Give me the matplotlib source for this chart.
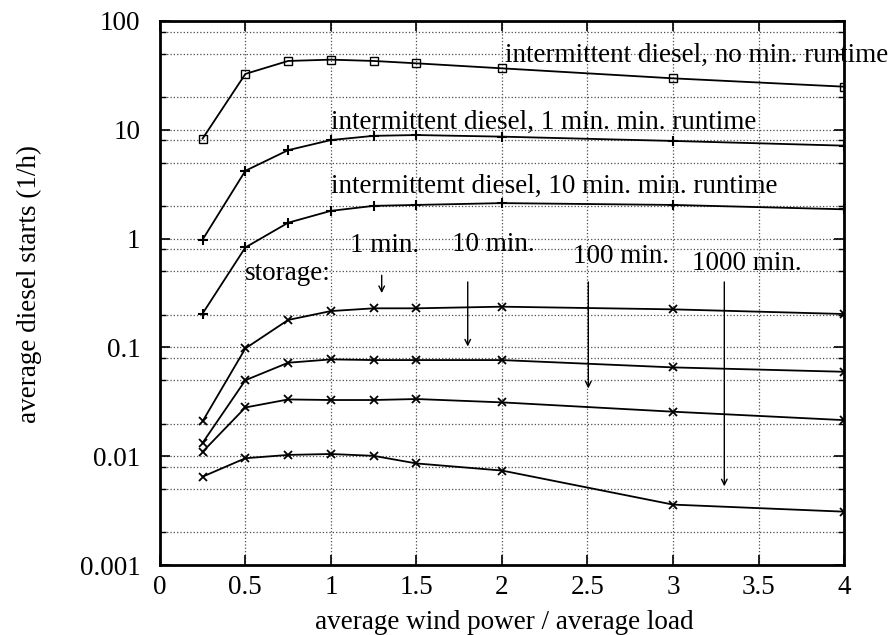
import matplotlib.pyplot as plt
import matplotlib.ticker as mticker
import numpy as np

plt.rcParams['font.family'] = ['Liberation Serif', 'DejaVu Serif']

# wind/load ratio at which simulations were run
ratio = [0.25, 0.5, 0.75, 1.0, 1.25, 1.5, 2.0, 3.0, 4.0]

# diesel starts per hour, intermittent diesel
no_min_runtime = [8.3, 32.6, 42.9, 44.1, 42.9, 40.8, 36.7, 29.7, 24.9]
min_runtime_1 = [0.98, 4.2, 6.5, 8.05, 8.8, 8.95, 8.65, 7.9, 7.15]
min_runtime_10 = [0.205, 0.83, 1.40, 1.80, 2.0, 2.04, 2.12, 2.04, 1.86]

# diesel starts per hour with storage
storage_1 = [0.021, 0.098, 0.179, 0.216, 0.229, 0.229, 0.237, 0.224, 0.203]
storage_10 = [0.0133, 0.050, 0.0724, 0.0777, 0.0766, 0.0766, 0.0766, 0.0656, 0.0598]
storage_100 = [0.011, 0.0281, 0.0333, 0.0329, 0.0329, 0.0336, 0.0313, 0.0257, 0.0215]
storage_1000 = [0.0065, 0.0096, 0.0103, 0.0105, 0.0101, 0.0086, 0.0074, 0.0036, 0.0031]

fig = plt.figure(figsize=(8.88, 6.35), dpi=100)
ax = fig.add_axes([0.180, 0.110, 0.7705, 0.857])

ax.semilogy(ratio, no_min_runtime, 'k-', marker='s', ms=6, mfc='none', mew=1.0, lw=1.3)
ax.semilogy(ratio, min_runtime_1, 'k-', marker='+', ms=7, mew=1.5, lw=1.3)
ax.semilogy(ratio, min_runtime_10, 'k-', marker='+', ms=7, mew=1.5, lw=1.3)
for s in [storage_1, storage_10, storage_100, storage_1000]:
    ax.semilogy(ratio, s, 'k-', marker='x', ms=6, mew=1.3, lw=1.3)

ax.set_xlim(0, 4)
ax.set_ylim(0.001, 100)
ax.set_xticks(np.arange(0, 4.01, 0.5))
ax.xaxis.set_major_formatter(mticker.FormatStrFormatter('%g'))
ax.yaxis.set_major_locator(mticker.LogLocator(base=10, numticks=10))
ax.yaxis.set_minor_locator(mticker.LogLocator(base=10, subs=[2, 5, 8], numticks=10))
ax.yaxis.set_major_formatter(mticker.FuncFormatter(lambda v, p: '%g' % v))
ax.yaxis.set_minor_formatter(mticker.NullFormatter())

ax.grid(True, which='major', ls=':', color='0.3', lw=0.9)
ax.grid(True, which='minor', axis='y', ls=':', color='0.3', lw=0.9)
ax.tick_params(which='both', direction='in', top=True, right=True, labelsize=19.5)
ax.tick_params(axis='x', pad=7)
ax.tick_params(axis='y', pad=14)
ax.tick_params(which='major', length=7, width=1.2)
ax.tick_params(which='minor', length=4, width=1.0)
for sp in ax.spines.values():
    sp.set_linewidth(2)

ax.set_xlabel('average wind power / average load', fontsize=19.5)
ax.set_ylabel('average diesel starts (1/h)', fontsize=19.5)
ax.xaxis.set_label_coords(0.503, -0.082)
ax.yaxis.set_label_coords(-0.172, 0.517)

fs = 19.5
ax.text(2.02, 48, 'intermittent diesel, no min. runtime', fontsize=fs, va='center', ha='left')
ax.text(1.0, 11.6, 'intermittent diesel, 1 min. min. runtime', fontsize=fs, va='center', ha='left')
ax.text(1.0, 3.0, 'intermittemt diesel, 10 min. min. runtime', fontsize=fs, va='center', ha='left')
ax.text(0.5, 0.48, 'storage:', fontsize=fs, va='center', ha='left')
ax.text(1.11, 0.87, '1 min.', fontsize=fs, va='center', ha='left')
ax.text(1.71, 0.88, '10 min.', fontsize=fs, va='center', ha='left')
ax.text(2.415, 0.68, '100 min.', fontsize=fs, va='center', ha='left')
ax.text(3.11, 0.59, '1000 min.', fontsize=fs, va='center', ha='left')

arrow = dict(arrowstyle='->', color='k', lw=1.0, shrinkA=0, shrinkB=0)
ax.annotate('', xy=(1.297, 0.316), xytext=(1.297, 0.46), arrowprops=arrow)
ax.annotate('', xy=(1.80, 0.102), xytext=(1.80, 0.40), arrowprops=arrow)
ax.annotate('', xy=(2.505, 0.042), xytext=(2.505, 0.40), arrowprops=arrow)
ax.annotate('', xy=(3.30, 0.0053), xytext=(3.30, 0.40), arrowprops=arrow)

fig.savefig('out.png', dpi=100)
